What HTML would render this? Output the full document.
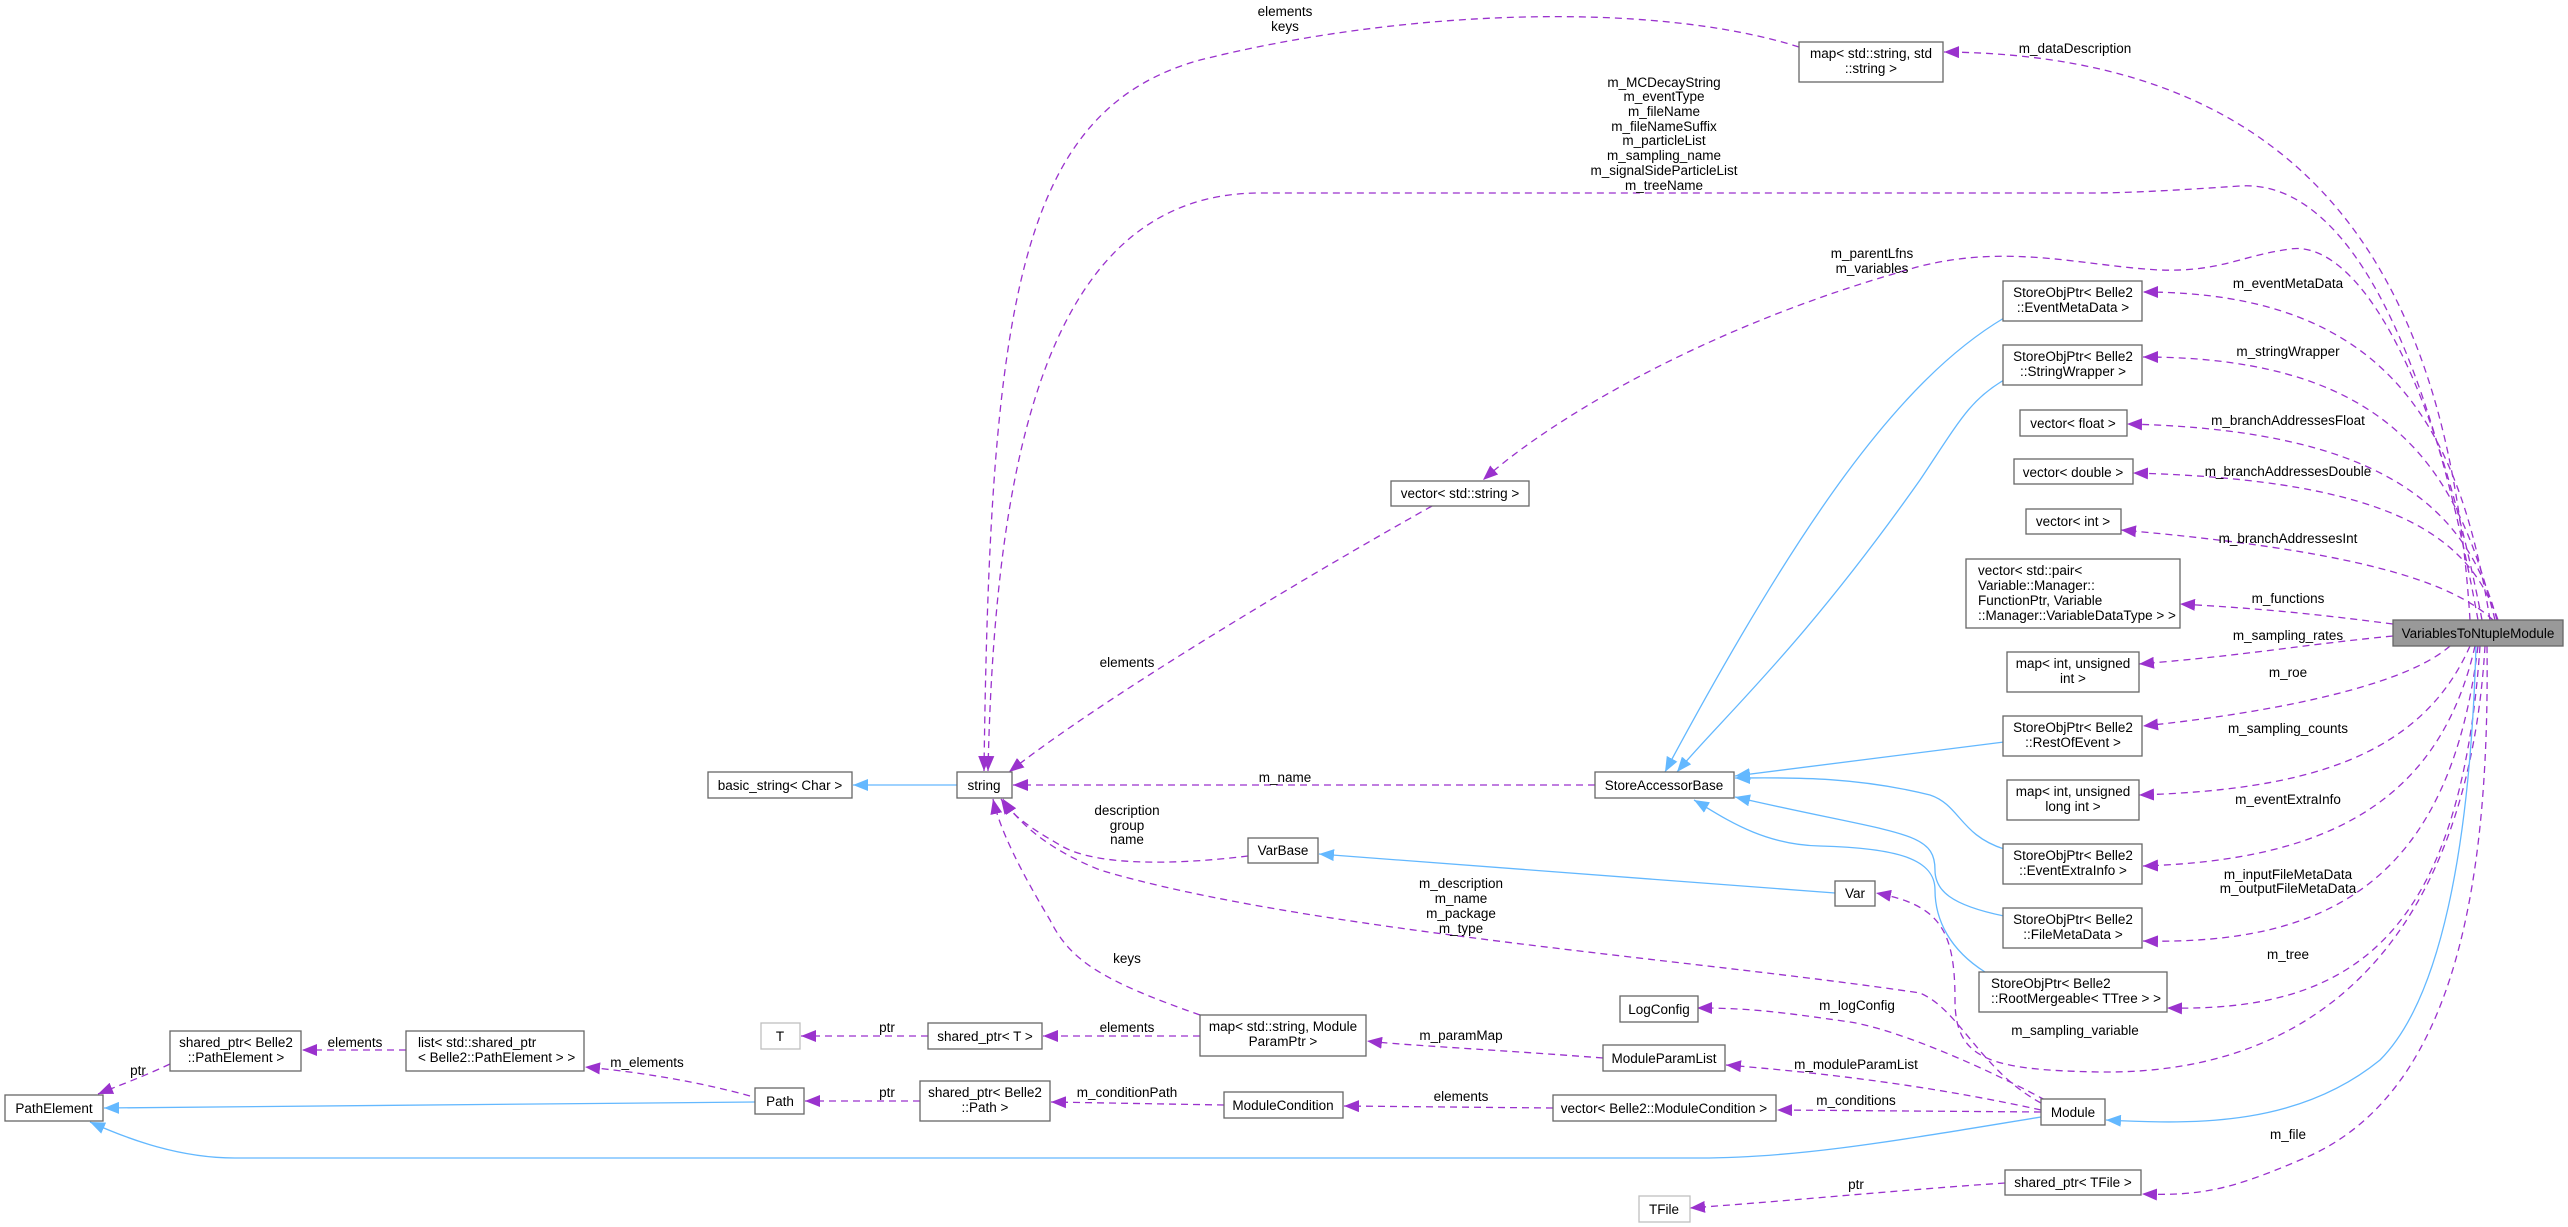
<!DOCTYPE html>
<html><head><meta charset="utf-8"><style>
html,body{margin:0;padding:0;background:#fff;}
svg{display:block;}
text{font-family:"Liberation Sans",Arial,sans-serif;font-size:13.5px;fill:#000;}
.n{fill:#fff;stroke:#666;stroke-width:1.3;}
.g{fill:#fff;stroke:#bfbfbf;stroke-width:1.3;}
.p{fill:none;stroke:#9a32cd;stroke-width:1.3;stroke-dasharray:7,5;marker-end:url(#ap);}
.b{fill:none;stroke:#63b8ff;stroke-width:1.3;marker-end:url(#ab);}
</style></head><body>
<svg width="2568" height="1227" viewBox="0 0 2568 1227" xmlns="http://www.w3.org/2000/svg">
<defs>
<marker id="ap" markerUnits="userSpaceOnUse" markerWidth="16" markerHeight="12" refX="15" refY="6" orient="auto"><path d="M0,0 L15,6 L0,12 z" fill="#9a32cd"/></marker>
<marker id="ab" markerUnits="userSpaceOnUse" markerWidth="16" markerHeight="12" refX="15" refY="6" orient="auto"><path d="M0,0 L15,6 L0,12 z" fill="#63b8ff"/></marker>
</defs>

<!-- purple edges -->
<path class="p" d="M2470,620 C2450,300 2330,55 1944,52"/>
<path class="p" d="M2478,620 C2420,300 2330,180 2240,186 C2180,190 2130,193 2090,193 L1260,193 C1050,193 995,450 988,771"/>
<path class="p" d="M1799,47 C1650,0 1400,10 1200,60 C1020,110 990,300 984,771"/>
<path class="p" d="M2482,620 C2430,350 2350,240 2290,249 C2240,256 2220,272 2160,270 C2080,266 2000,240 1900,272 C1700,330 1550,420 1483,480"/>
<path class="p" d="M1432,506 C1300,580 1100,700 1009,772"/>
<path class="p" d="M2490,620 C2460,430 2390,292 2143,292"/>
<path class="p" d="M2495,620 C2460,480 2400,357 2143,357"/>
<path class="p" d="M2497,620 C2470,520 2400,430 2127,424"/>
<path class="p" d="M2498,620 C2470,540 2400,480 2133,473"/>
<path class="p" d="M2493,620 C2450,580 2350,550 2121,530"/>
<path class="p" d="M2393,624 C2300,612 2250,608 2180,604"/>
<path class="p" d="M2393,636 C2300,645 2250,655 2139,664"/>
<path class="p" d="M2450,646 C2400,690 2250,715 2143,726"/>
<path class="p" d="M2470,646 C2420,760 2300,790 2139,795"/>
<path class="p" d="M2475,646 C2440,800 2330,860 2143,866"/>
<path class="p" d="M2478,646 C2450,880 2330,945 2143,941"/>
<path class="p" d="M2480,646 C2460,940 2350,1012 2167,1008"/>
<path class="p" d="M2485,646 C2470,900 2350,1075 2100,1072 C1990,1070 1955,1060 1955,1000 C1955,930 1940,905 1876,893"/>
<path class="p" d="M2487,646 C2490,900 2450,1100 2300,1160 C2230,1190 2200,1196 2142,1194"/>
<path class="p" d="M2005,1183 C1900,1190 1800,1200 1690,1208"/>
<path class="p" d="M2041,1103 C1980,1070 1960,1010 1920,993 C1700,960 1300,930 1100,870 C1050,850 1020,825 1003,799"/>
<path class="p" d="M2045,1100 C1990,1070 1900,1030 1850,1022 C1780,1012 1750,1008 1697,1008"/>
<path class="p" d="M2041,1110 C1950,1090 1850,1075 1726,1065"/>
<path class="p" d="M2041,1112 L1777,1110"/>
<path class="p" d="M1595,785 L1013,785"/>
<path class="p" d="M1248,856 C1200,862 1100,870 1060,845 C1030,828 1012,815 1001,799"/>
<path class="p" d="M1200,1015 C1100,980 1070,960 1050,920 C1020,870 1000,830 993,799"/>
<path class="p" d="M1200,1036 L1043,1036"/>
<path class="p" d="M928,1036 L801,1036"/>
<path class="p" d="M1603,1058 C1500,1050 1400,1045 1367,1041"/>
<path class="p" d="M1553,1108 L1344,1106"/>
<path class="p" d="M1224,1105 L1051,1102"/>
<path class="p" d="M920,1101 L805,1101"/>
<path class="p" d="M750,1096 C700,1082 640,1072 585,1067"/>
<path class="p" d="M406,1050 L302,1050"/>
<path class="p" d="M170,1064 C140,1078 120,1085 98,1094"/>

<!-- blue edges -->
<path class="b" d="M957,785 L853,785"/>
<path class="b" d="M1835,893 L1319,854"/>
<path class="b" d="M755,1102 L104,1108"/>
<path class="b" d="M2041,1117 C1900,1140 1800,1158 1700,1158 L235,1158 C180,1158 130,1140 90,1122"/>
<path class="b" d="M2476,646 C2470,850 2440,1000 2380,1060 C2300,1125 2200,1125 2106,1120"/>
<path class="b" d="M2004,318 C1900,380 1800,520 1665,772"/>
<path class="b" d="M2004,380 C1970,400 1960,420 1920,480 C1800,650 1720,720 1677,772"/>
<path class="b" d="M2004,742 L1735,776"/>
<path class="b" d="M2004,849 C1960,835 1960,805 1930,795 C1850,775 1780,778 1735,778"/>
<path class="b" d="M2004,916 C1950,905 1935,890 1935,870 C1935,830 1900,835 1735,797"/>
<path class="b" d="M1985,972 C1950,950 1935,920 1935,890 C1935,860 1900,848 1820,846 C1760,845 1720,815 1694,800"/>

<!-- nodes -->
<rect x="2393" y="620" width="170" height="26" fill="#999" stroke="#666" stroke-width="1.3"/>
<text x="2478" y="638" text-anchor="middle">VariablesToNtupleModule</text>

<rect class="n" x="1799" y="42" width="144" height="40"/>
<text x="1871" y="58" text-anchor="middle">map&lt; std::string, std</text>
<text x="1871" y="73" text-anchor="middle">::string &gt;</text>

<rect class="n" x="2003" y="281" width="139" height="40"/>
<text x="2073" y="297" text-anchor="middle">StoreObjPtr&lt; Belle2</text>
<text x="2073" y="312" text-anchor="middle">::EventMetaData &gt;</text>

<rect class="n" x="2003" y="345" width="139" height="40"/>
<text x="2073" y="361" text-anchor="middle">StoreObjPtr&lt; Belle2</text>
<text x="2073" y="376" text-anchor="middle">::StringWrapper &gt;</text>

<rect class="n" x="2020" y="410" width="107" height="26"/>
<text x="2073" y="428" text-anchor="middle">vector&lt; float &gt;</text>

<rect class="n" x="2014" y="459" width="119" height="25"/>
<text x="2073" y="477" text-anchor="middle">vector&lt; double &gt;</text>

<rect class="n" x="2026" y="509" width="95" height="25"/>
<text x="2073" y="526" text-anchor="middle">vector&lt; int &gt;</text>

<rect class="n" x="1966" y="559" width="214" height="69"/>
<text x="1978" y="575">vector&lt; std::pair&lt;</text>
<text x="1978" y="590"> Variable::Manager::</text>
<text x="1978" y="605">FunctionPtr, Variable</text>
<text x="1978" y="620">::Manager::VariableDataType &gt; &gt;</text>

<rect class="n" x="2007" y="652" width="132" height="40"/>
<text x="2073" y="668" text-anchor="middle">map&lt; int, unsigned</text>
<text x="2073" y="683" text-anchor="middle">int &gt;</text>

<rect class="n" x="2003" y="716" width="139" height="40"/>
<text x="2073" y="732" text-anchor="middle">StoreObjPtr&lt; Belle2</text>
<text x="2073" y="747" text-anchor="middle">::RestOfEvent &gt;</text>

<rect class="n" x="2007" y="780" width="132" height="40"/>
<text x="2073" y="796" text-anchor="middle">map&lt; int, unsigned</text>
<text x="2073" y="811" text-anchor="middle">long int &gt;</text>

<rect class="n" x="2003" y="844" width="139" height="40"/>
<text x="2073" y="860" text-anchor="middle">StoreObjPtr&lt; Belle2</text>
<text x="2073" y="875" text-anchor="middle">::EventExtraInfo &gt;</text>

<rect class="n" x="2003" y="908" width="139" height="40"/>
<text x="2073" y="924" text-anchor="middle">StoreObjPtr&lt; Belle2</text>
<text x="2073" y="939" text-anchor="middle">::FileMetaData &gt;</text>

<rect class="n" x="1979" y="972" width="188" height="40"/>
<text x="1991" y="988">StoreObjPtr&lt; Belle2</text>
<text x="1991" y="1003">::RootMergeable&lt; TTree &gt; &gt;</text>

<rect class="n" x="2041" y="1099" width="64" height="26"/>
<text x="2073" y="1117" text-anchor="middle">Module</text>

<rect class="n" x="2005" y="1170" width="136" height="25"/>
<text x="2073" y="1187" text-anchor="middle">shared_ptr&lt; TFile &gt;</text>

<rect class="g" x="1639" y="1196" width="51" height="26"/>
<text x="1664" y="1214" text-anchor="middle">TFile</text>

<rect class="n" x="1391" y="481" width="138" height="25"/>
<text x="1460" y="498" text-anchor="middle">vector&lt; std::string &gt;</text>

<rect class="n" x="957" y="772" width="55" height="26"/>
<text x="984" y="790" text-anchor="middle">string</text>

<rect class="n" x="708" y="772" width="144" height="26"/>
<text x="780" y="790" text-anchor="middle">basic_string&lt; Char &gt;</text>

<rect class="n" x="1595" y="772" width="139" height="26"/>
<text x="1664" y="790" text-anchor="middle">StoreAccessorBase</text>

<rect class="n" x="1248" y="838" width="70" height="25"/>
<text x="1283" y="855" text-anchor="middle">VarBase</text>

<rect class="n" x="1835" y="881" width="40" height="25"/>
<text x="1855" y="898" text-anchor="middle">Var</text>

<rect class="n" x="1620" y="996" width="78" height="26"/>
<text x="1659" y="1014" text-anchor="middle">LogConfig</text>

<rect class="n" x="1200" y="1015" width="166" height="41"/>
<text x="1283" y="1031" text-anchor="middle">map&lt; std::string, Module</text>
<text x="1283" y="1046" text-anchor="middle">ParamPtr &gt;</text>

<rect class="n" x="1603" y="1045" width="122" height="26"/>
<text x="1664" y="1063" text-anchor="middle">ModuleParamList</text>

<rect class="n" x="928" y="1023" width="114" height="26"/>
<text x="985" y="1041" text-anchor="middle">shared_ptr&lt; T &gt;</text>

<rect class="g" x="761" y="1023" width="39" height="26"/>
<text x="780" y="1041" text-anchor="middle">T</text>

<rect class="n" x="920" y="1081" width="130" height="40"/>
<text x="985" y="1097" text-anchor="middle">shared_ptr&lt; Belle2</text>
<text x="985" y="1112" text-anchor="middle">::Path &gt;</text>

<rect class="n" x="1224" y="1092" width="119" height="26"/>
<text x="1283" y="1110" text-anchor="middle">ModuleCondition</text>

<rect class="n" x="1553" y="1095" width="223" height="26"/>
<text x="1664" y="1113" text-anchor="middle">vector&lt; Belle2::ModuleCondition &gt;</text>

<rect class="n" x="755" y="1088" width="49" height="26"/>
<text x="780" y="1106" text-anchor="middle">Path</text>

<rect class="n" x="406" y="1031" width="178" height="40"/>
<text x="418" y="1047">list&lt; std::shared_ptr</text>
<text x="418" y="1062">&lt; Belle2::PathElement &gt; &gt;</text>

<rect class="n" x="170" y="1031" width="131" height="40"/>
<text x="236" y="1047" text-anchor="middle">shared_ptr&lt; Belle2</text>
<text x="236" y="1062" text-anchor="middle">::PathElement &gt;</text>

<rect class="n" x="5" y="1095" width="98" height="26"/>
<text x="54" y="1113" text-anchor="middle">PathElement</text>

<!-- labels -->
<g text-anchor="middle">
<text x="1285" y="16">elements</text>
<text x="1285" y="31">keys</text>
<text x="1664" y="87">m_MCDecayString</text>
<text x="1664" y="101">m_eventType</text>
<text x="1664" y="116">m_fileName</text>
<text x="1664" y="131">m_fileNameSuffix</text>
<text x="1664" y="145">m_particleList</text>
<text x="1664" y="160">m_sampling_name</text>
<text x="1664" y="175">m_signalSideParticleList</text>
<text x="1664" y="190">m_treeName</text>
<text x="1872" y="258">m_parentLfns</text>
<text x="1872" y="273">m_variables</text>
<text x="2075" y="53">m_dataDescription</text>
<text x="2288" y="288">m_eventMetaData</text>
<text x="2288" y="356">m_stringWrapper</text>
<text x="2288" y="425">m_branchAddressesFloat</text>
<text x="2288" y="476">m_branchAddressesDouble</text>
<text x="2288" y="543">m_branchAddressesInt</text>
<text x="2288" y="603">m_functions</text>
<text x="2288" y="640">m_sampling_rates</text>
<text x="2288" y="677">m_roe</text>
<text x="2288" y="733">m_sampling_counts</text>
<text x="2288" y="804">m_eventExtraInfo</text>
<text x="2288" y="879">m_inputFileMetaData</text>
<text x="2288" y="893">m_outputFileMetaData</text>
<text x="2288" y="959">m_tree</text>
<text x="2075" y="1035">m_sampling_variable</text>
<text x="2288" y="1139">m_file</text>
<text x="1857" y="1010">m_logConfig</text>
<text x="1856" y="1069">m_moduleParamList</text>
<text x="1856" y="1105">m_conditions</text>
<text x="1856" y="1189">ptr</text>
<text x="1127" y="667">elements</text>
<text x="1285" y="782">m_name</text>
<text x="1127" y="815">description</text>
<text x="1127" y="830">group</text>
<text x="1127" y="844">name</text>
<text x="1461" y="888">m_description</text>
<text x="1461" y="903">m_name</text>
<text x="1461" y="918">m_package</text>
<text x="1461" y="933">m_type</text>
<text x="1127" y="963">keys</text>
<text x="1127" y="1032">elements</text>
<text x="1461" y="1040">m_paramMap</text>
<text x="1127" y="1097">m_conditionPath</text>
<text x="1461" y="1101">elements</text>
<text x="138" y="1075">ptr</text>
<text x="355" y="1047">elements</text>
<text x="647" y="1067">m_elements</text>
<text x="887" y="1032">ptr</text>
<text x="887" y="1097">ptr</text>
</g>
</svg>
</body></html>
